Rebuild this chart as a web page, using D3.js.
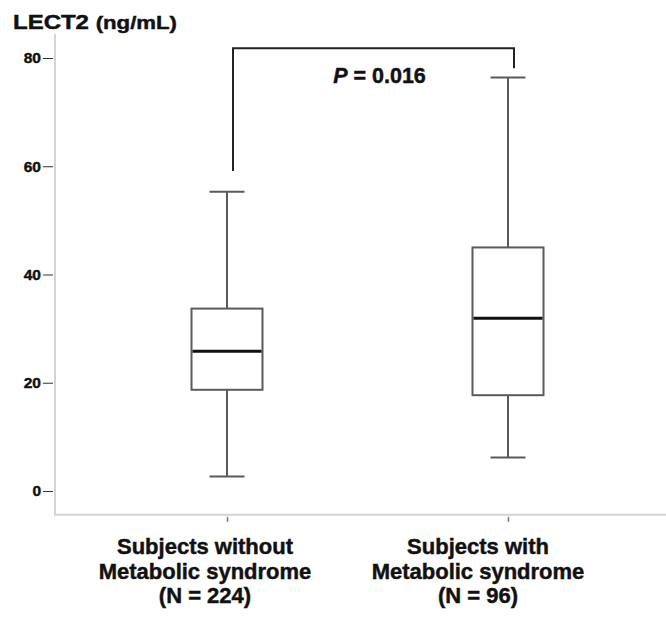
<!DOCTYPE html>
<html>
<head>
<meta charset="utf-8">
<script src="https://cdn.jsdelivr.net/npm/d3@7"></script>
<style>
  body { margin: 0; background: #fff; }
  text { font-family: "Liberation Sans", Arial, sans-serif; font-weight: bold; fill: #111; stroke: #111; stroke-width: 0.45px; }
</style>
</head>
<body>
<div id="chart"></div>
<script>
// ---- data ----
var categories = ["without", "with"];
var labelLines = [
  ["Subjects without", "Metabolic syndrome", "(N = 224)"],
  ["Subjects with", "Metabolic syndrome", "(N = 96)"]
];
var whiskerLow  = [2.7, 6.2];
var q1          = [18.7, 17.7];
var median      = [25.8, 31.9];
var q3          = [33.7, 45.0];
var whiskerHigh = [55.3, 76.4];
var yTicks = [0, 20, 40, 60, 80];
var pText = "0.016";
// bracket ends (value units): left leg bottom, right leg bottom, top bar
var bracketLow = [59.1, 78.1];
var bracketTop = 81.8;

var width = 666, height = 622;

var svg = d3.select("#chart").append("svg")
  .attr("width", width)
  .attr("height", height);

// scales
var y = d3.scaleLinear().domain([0, 80]).range([491, 58]);
var x = d3.scalePoint().domain(categories).range([227, 508]);
var xLabel = d3.scalePoint().domain(categories).range([205, 478]);

var boxW = 71, capW = 35;

// axis lines (light grey)
svg.append("line")
  .attr("x1", 55).attr("x2", 55)
  .attr("y1", y(84.4)).attr("y2", y(-4.4))
  .attr("stroke", "#d4d4d4").attr("stroke-width", 2);
svg.append("line")
  .attr("x1", 54).attr("x2", width)
  .attr("y1", y(-4.4)).attr("y2", y(-4.4))
  .attr("stroke", "#d4d4d4").attr("stroke-width", 2);

// y axis ticks + labels
var yAxis = svg.append("g")
  .attr("transform", "translate(53,0)")
  .call(d3.axisLeft(y).tickValues(yTicks).tickSize(10).tickPadding(2));
yAxis.select(".domain").remove();
yAxis.selectAll(".tick line").attr("stroke", "#333");
yAxis.selectAll(".tick text")
  .style("font-size", "15.5px")
  .style("font-family", "'Liberation Sans', Arial, sans-serif")
  .style("font-weight", "bold")
  .attr("fill", "#111");

// x axis small ticks
var xAxis = svg.append("g")
  .attr("transform", "translate(0," + (y(-4.4) + 2) + ")")
  .call(d3.axisBottom(x).tickSize(5).tickFormat(""));
xAxis.select(".domain").remove();
xAxis.selectAll(".tick line").attr("stroke", "#777").attr("stroke-width", 1.5);

// boxes
var boxes = svg.selectAll(".box")
  .data(categories)
  .enter().append("g")
  .attr("class", "box");

boxes.append("line")   // lower whisker
  .attr("x1", d => x(d)).attr("x2", d => x(d))
  .attr("y1", (d, i) => y(q1[i])).attr("y2", (d, i) => y(whiskerLow[i]))
  .attr("stroke", "#5a5a5a").attr("stroke-width", 2);
boxes.append("line")   // upper whisker
  .attr("x1", d => x(d)).attr("x2", d => x(d))
  .attr("y1", (d, i) => y(q3[i])).attr("y2", (d, i) => y(whiskerHigh[i]))
  .attr("stroke", "#5a5a5a").attr("stroke-width", 2);
boxes.append("line")   // lower cap
  .attr("x1", d => x(d) - capW / 2).attr("x2", d => x(d) + capW / 2)
  .attr("y1", (d, i) => y(whiskerLow[i])).attr("y2", (d, i) => y(whiskerLow[i]))
  .attr("stroke", "#5a5a5a").attr("stroke-width", 2);
boxes.append("line")   // upper cap
  .attr("x1", d => x(d) - capW / 2).attr("x2", d => x(d) + capW / 2)
  .attr("y1", (d, i) => y(whiskerHigh[i])).attr("y2", (d, i) => y(whiskerHigh[i]))
  .attr("stroke", "#5a5a5a").attr("stroke-width", 2);
boxes.append("rect")
  .attr("x", d => x(d) - boxW / 2)
  .attr("width", boxW)
  .attr("y", (d, i) => y(q3[i]))
  .attr("height", (d, i) => y(q1[i]) - y(q3[i]))
  .attr("fill", "#fff")
  .attr("stroke", "#5a5a5a").attr("stroke-width", 2);
boxes.append("line")   // median
  .attr("x1", d => x(d) - boxW / 2 + 1).attr("x2", d => x(d) + boxW / 2 - 1)
  .attr("y1", (d, i) => y(median[i])).attr("y2", (d, i) => y(median[i]))
  .attr("stroke", "#111").attr("stroke-width", 3);

// significance bracket
var bx0 = x(categories[0]) + 6, bx1 = x(categories[1]) + 6;
svg.append("path")
  .attr("d", "M" + bx0 + "," + y(bracketLow[0]) +
             "V" + y(bracketTop) +
             "H" + bx1 +
             "V" + y(bracketLow[1]))
  .attr("fill", "none")
  .attr("stroke", "#222").attr("stroke-width", 2);

var pLabel = svg.append("text")
  .attr("x", (bx0 + bx1) / 2 + 6)
  .attr("y", y(75.3))
  .attr("text-anchor", "middle")
  .style("font-size", "21.5px");
pLabel.append("tspan").style("font-style", "italic").text("P");
pLabel.append("tspan").text(" = " + pText);

// category labels
categories.forEach(function (c, i) {
  var t = svg.append("text")
    .attr("text-anchor", "middle")
    .style("font-size", "22px");
  labelLines[i].forEach(function (line, j) {
    t.append("tspan")
      .attr("x", xLabel(c))
      .attr("y", 554 + j * 24.5)
      .text(line);
  });
});

// y title (slightly stretched, as in the picture)
var title = svg.append("text")
  .attr("transform", "translate(13,29) scale(1.2,1)");
title.append("tspan").style("font-size", "20px").text("LECT2 ");
title.append("tspan").style("font-size", "18.5px").text("(ng/mL)");
</script>
</body>
</html>
